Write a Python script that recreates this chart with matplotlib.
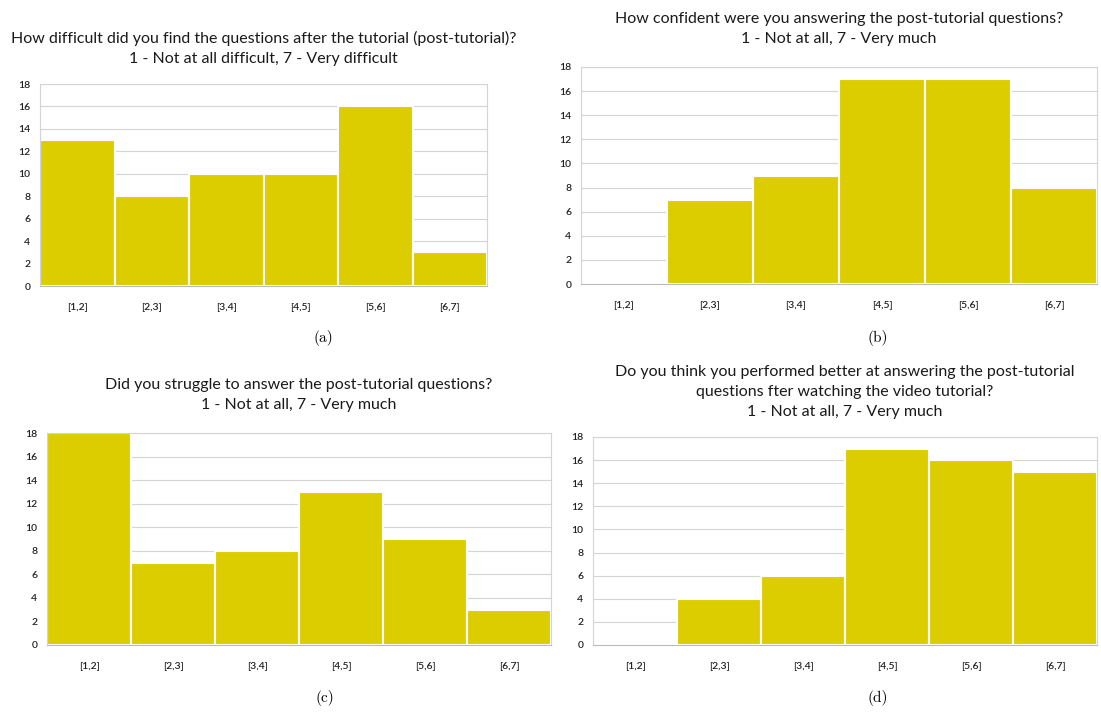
import matplotlib
matplotlib.use("Agg")
import matplotlib.pyplot as plt
import numpy as np

# bins and survey counts
categories = ["[1,2]", "[2,3]", "[3,4]", "[4,5]", "[5,6]", "[6,7]"]
counts_a = [13, 8, 10, 10, 16, 3]
counts_b = [0, 7, 9, 17, 17, 8]
counts_c = [18, 7, 8, 13, 9, 3]
counts_d = [0, 4, 6, 17, 16, 15]

titles = [
    "How difficult did you find the questions after the tutorial (post-tutorial)?\n"
    "1 - Not at all difficult, 7 - Very difficult",
    "How confident were you answering the post-tutorial questions?\n"
    "1 - Not at all, 7 - Very much",
    "Did you struggle to answer the post-tutorial questions?\n"
    "1 - Not at all, 7 - Very much",
    "Do you think you performed better at answering the post-tutorial\n"
    "questions fter watching the video tutorial?\n"
    "1 - Not at all, 7 - Very much",
]
captions = ["(a)", "(b)", "(c)", "(d)"]

W, H = 1101, 712
bar_color = "#dccd00"


def px_axes(fig, left, top, right, bottom):
    return fig.add_axes([left / W, 1 - bottom / H, (right - left) / W, (bottom - top) / H])


fig = plt.figure(figsize=(W / 100, H / 100), dpi=100)
plt.rcParams["font.family"] = ["Lato", "DejaVu Sans"]

# pixel boxes (left, top, right, bottom) of each plot area
boxes = [(40, 84, 487, 286), (581, 67, 1097, 284), (47, 433, 551, 645), (593, 437, 1097, 645)]
title_pad = [15, 17, 17, 15]
caption_pos = [(323, 338), (878, 338), (325, 698), (878, 698)]
all_counts = [counts_a, counts_b, counts_c, counts_d]

x = np.arange(len(categories))
for box, vals, title, pad, cap, cpos in zip(boxes, all_counts, titles, title_pad, captions, caption_pos):
    ax = px_axes(fig, *box)
    ax.bar(x, vals, width=1.0, color=bar_color, edgecolor="white", linewidth=1.5, zorder=2)
    ax.set_xlim(-0.5, len(categories) - 0.5)
    ax.set_ylim(0, 18)
    ax.set_yticks(range(0, 19, 2))
    ax.set_xticks(x)
    ax.set_xticklabels(categories)
    ax.tick_params(length=0, labelsize=7.5, pad=12, colors="#222222")
    ax.tick_params(axis="y", pad=7)
    for lbl in ax.get_xticklabels() + ax.get_yticklabels():
        lbl.set_fontweight("semibold")
    ax.grid(axis="y", color="#d4d4d4", linewidth=0.8, zorder=0)
    for s in ax.spines.values():
        s.set_color("#d4d4d4")
        s.set_linewidth(0.8)
    ax.spines["bottom"].set_color("#bbbbbb")
    ax.set_title(title, fontsize=11.5, color="#1a1a1a", linespacing=1.55, pad=pad)
    fig.text(cpos[0] / W, 1 - cpos[1] / H, cap, fontsize=11, family="cmr10",
             ha="center", va="center")

fig.savefig("out.png", dpi=100)
